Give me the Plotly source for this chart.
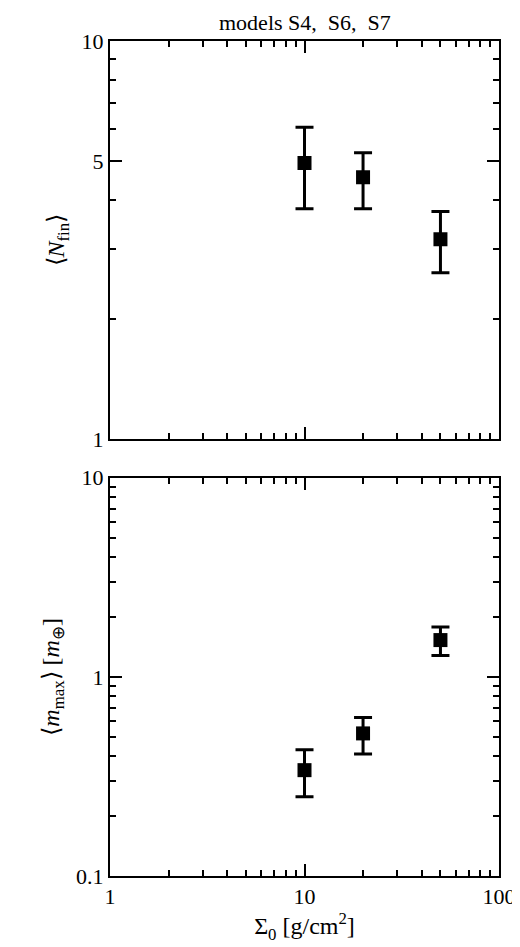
import plotly.graph_objects as go

sigma = [10, 20, 50]
nfin = [4.94, 4.55, 3.18]
nfin_hi = [6.07, 5.24, 3.73]
nfin_lo = [3.79, 3.79, 2.62]
mmax = [0.34, 0.52, 1.53]
mmax_hi = [0.43, 0.625, 1.78]
mmax_lo = [0.25, 0.41, 1.28]

fig = go.Figure()
def add(y, hi, lo, ax):
    fig.add_trace(go.Scatter(x=sigma, y=y, mode="markers", xaxis=ax[0], yaxis=ax[1],
        marker=dict(symbol="square", size=14, color="black"),
        error_y=dict(type="data", symmetric=False,
                     array=[h - v for h, v in zip(hi, y)],
                     arrayminus=[v - l for v, l in zip(y, lo)],
                     color="black", thickness=3, width=9),
        showlegend=False))
add(nfin, nfin_hi, nfin_lo, ("x", "y"))
add(mmax, mmax_hi, mmax_lo, ("x2", "y2"))

def minors(lo_dec, hi_dec):
    return [m * 10**d for d in range(lo_dec, hi_dec) for m in range(2, 10)]

common = dict(type="log", showline=True, linecolor="black", linewidth=2, mirror="ticks",
              ticks="inside", ticklen=12, tickwidth=1.5, tickcolor="black", showgrid=False,
              zeroline=False, tickfont=dict(family="Liberation Serif", size=22, color="black"))
xmin = dict(ticks="inside", ticklen=6, tickcolor="black", tickmode="array", tickvals=minors(0, 2), showgrid=False)
fig.update_layout(
    width=520, height=947, plot_bgcolor="white", paper_bgcolor="white",
    margin=dict(l=102, r=22, t=33, b=79),
    font=dict(family="Liberation Serif", color="black"),
    xaxis=dict(common, range=[0, 2], anchor="y", matches="x2", tickvals=[1, 10, 100],
               showticklabels=False, minor=xmin),
    xaxis2=dict(common, range=[0, 2], anchor="y2", tickvals=[1, 10, 100], ticktext=["1", "10", "100"],
                minor=xmin,
                title=dict(text="Σ<sub>0</sub> [g/cm<sup>2</sup>]", font=dict(size=24), standoff=8)),
    yaxis=dict(common, range=[0, 1], domain=[0.523, 1], anchor="x", tickvals=[1, 5, 10],
               ticktext=["1", "5", "10"],
               minor=dict(ticks="inside", ticklen=6, tickcolor="black", tickmode="array",
                          tickvals=[2, 3, 4, 6, 7, 8, 9], showgrid=False),
               title=dict(text="⟨<i>N</i><sub>fin</sub>⟩", font=dict(size=24), standoff=10)),
    yaxis2=dict(common, range=[-1, 1], domain=[0, 0.477], anchor="x2", tickvals=[0.1, 1, 10],
                ticktext=["0.1", "1", "10"],
                minor=dict(ticks="inside", ticklen=6, tickcolor="black", tickmode="array",
                           tickvals=minors(-1, 1), showgrid=False),
                title=dict(text="⟨<i>m</i><sub>max</sub>⟩ [<i>m</i><sub>⊕</sub>]", font=dict(size=24), standoff=10)),
    annotations=[dict(text="models S4,  S6,  S7", x=0.5, y=1, xref="paper", yref="paper",
                      yanchor="bottom", yshift=4, showarrow=False, font=dict(size=22))],
)
fig.write_html("out.html")
